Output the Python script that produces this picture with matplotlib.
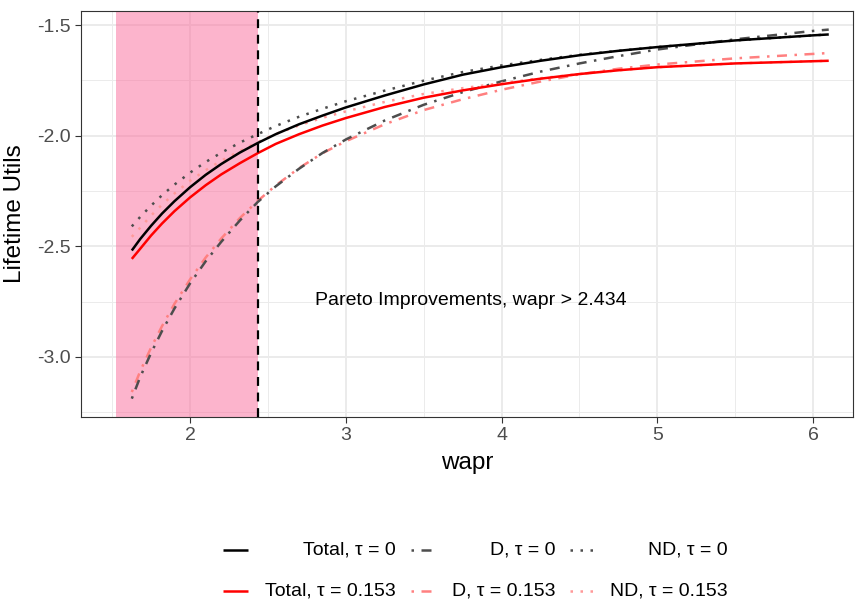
import numpy as np
import matplotlib
matplotlib.use("Agg")
import matplotlib.pyplot as plt
from matplotlib.lines import Line2D

plt.rcParams['font.family'] = ['Liberation Sans', 'DejaVu Sans']
plt.rcParams['axes.unicode_minus'] = False

wapr = [1.626, 1.68, 1.75, 1.82, 1.9, 2.0, 2.1, 2.2, 2.32, 2.434, 2.55, 2.7, 2.85,
        3.0, 3.25, 3.5, 3.75, 4.0, 4.25, 4.5, 4.75, 5.0, 5.5, 6.0, 6.1]

total_t0 = [-2.519, -2.467, -2.407, -2.352, -2.296, -2.233, -2.177, -2.128, -2.076, -2.033,
            -1.993, -1.948, -1.909, -1.872, -1.818, -1.768, -1.724, -1.690, -1.661, -1.636,
            -1.616, -1.599, -1.569, -1.546, -1.542]
d_t0 = [-3.189, -3.091, -2.982, -2.883, -2.781, -2.668, -2.568, -2.480, -2.383, -2.300,
        -2.229, -2.149, -2.078, -2.017, -1.931, -1.860, -1.803, -1.754, -1.710, -1.673,
        -1.640, -1.610, -1.564, -1.526, -1.520]
nd_t0 = [-2.410, -2.367, -2.316, -2.269, -2.221, -2.167, -2.119, -2.077, -2.031, -1.993,
         -1.956, -1.914, -1.878, -1.844, -1.796, -1.751, -1.712, -1.682, -1.657, -1.634,
         -1.616, -1.599, -1.569, -1.546, -1.542]
total_t1 = [-2.557, -2.511, -2.451, -2.397, -2.341, -2.279, -2.224, -2.175, -2.124, -2.079,
            -2.037, -1.993, -1.954, -1.920, -1.870, -1.828, -1.795, -1.767, -1.742, -1.721,
            -1.704, -1.690, -1.673, -1.663, -1.661]
d_t1 = [-3.159, -3.065, -2.958, -2.861, -2.760, -2.650, -2.551, -2.465, -2.372, -2.295,
        -2.225, -2.146, -2.079, -2.025, -1.948, -1.884, -1.835, -1.792, -1.755, -1.722,
        -1.697, -1.678, -1.650, -1.630, -1.626]
nd_t1 = [-2.457, -2.416, -2.361, -2.312, -2.261, -2.204, -2.156, -2.113, -2.069, -2.029,
         -1.992, -1.953, -1.919, -1.890, -1.847, -1.811, -1.785, -1.762, -1.740, -1.721,
         -1.704, -1.690, -1.673, -1.663, -1.661]

cutoff = 2.434
shade_start = 1.525

dotdash = (0, (1, 3, 4, 3))
dotted = (0, (1, 3))
series = [
    ("Total, \u03c4 = 0", total_t0, "black", "-"),
    ("D, \u03c4 = 0", d_t0, "#4D4D4D", dotdash),
    ("ND, \u03c4 = 0", nd_t0, "#4D4D4D", dotted),
    ("Total, \u03c4 = 0.153", total_t1, "#FF0000", "-"),
    ("D, \u03c4 = 0.153", d_t1, "#FF8080", dotdash),
    ("ND, \u03c4 = 0.153", nd_t1, "#FF9999", dotted),
]


def main():
    fig = plt.figure(figsize=(8.55, 6), dpi=100)
    ax = fig.add_axes([0.0944, 0.305, 0.9033, 0.677])

    ax.axvspan(shade_start, cutoff, color="#FB6A9B", alpha=0.5, lw=0, zorder=1)

    # light ones first so black/red sit on top
    order = [4, 1, 5, 2, 3, 0]
    for i in order:
        label, vals, col, ls = series[i]
        ax.plot(wapr, vals, color=col, linestyle=ls, lw=1.8,
                dash_capstyle="butt", solid_capstyle="butt", zorder=3 + (i % 3 == 0))

    ax.axvline(cutoff, color="black", linestyle=(0, (4, 3)), lw=1.6, zorder=5)

    ax.text(3.8, -2.743, "Pareto Improvements, wapr > 2.434", ha="center", va="center",
            fontsize=14, color="black")

    ax.set_xlim(1.298, 6.256)
    ax.set_ylim(-3.272, -1.435)
    ax.set_xticks([2, 3, 4, 5, 6])
    ax.set_xticks([1.5, 2.5, 3.5, 4.5, 5.5], minor=True)
    ax.set_yticks([-3.0, -2.5, -2.0, -1.5])
    ax.set_yticklabels(["-3.0", "-2.5", "-2.0", "-1.5"])
    ax.set_yticks([-3.25, -2.75, -2.25, -1.75], minor=True)
    ax.grid(which="major", color="#EBEBEB", lw=1.4, zorder=0)
    ax.grid(which="minor", color="#EBEBEB", lw=0.7, zorder=0)
    ax.set_axisbelow(True)
    ax.tick_params(which="major", length=4, width=0.8, color="#333333",
                   labelsize=14, labelcolor="#4D4D4D", pad=3)
    ax.tick_params(which="minor", length=0)
    for s in ax.spines.values():
        s.set_color("#333333")
        s.set_linewidth(0.8)

    ax.set_xlabel("wapr", fontsize=17.5, labelpad=6)
    ax.set_ylabel("Lifetime Utils", fontsize=17.5, labelpad=8)

    # legend drawn by hand: two rows, three columns, right-aligned labels
    rows_y = [1 - 550 / 600, 1 - 591 / 600]
    key_x = [(223, 248), (411, 436), (570, 595)]
    text_end = [396, 555, 728]
    for i, (label, vals, col, ls) in enumerate(series):
        r, c = i // 3, i % 3
        y = rows_y[r]
        x0, x1 = key_x[c]
        fig.add_artist(Line2D([x0 / 855, x1 / 855], [y, y], color=col, linestyle=ls,
                              lw=1.8, dash_capstyle="butt", solid_capstyle="butt",
                              transform=fig.transFigure))
        fig.text(text_end[c] / 855, y, label, ha="right", va="center", fontsize=14)

    plt.savefig("out.png", dpi=100)


if __name__ == "__main__":
    main()
